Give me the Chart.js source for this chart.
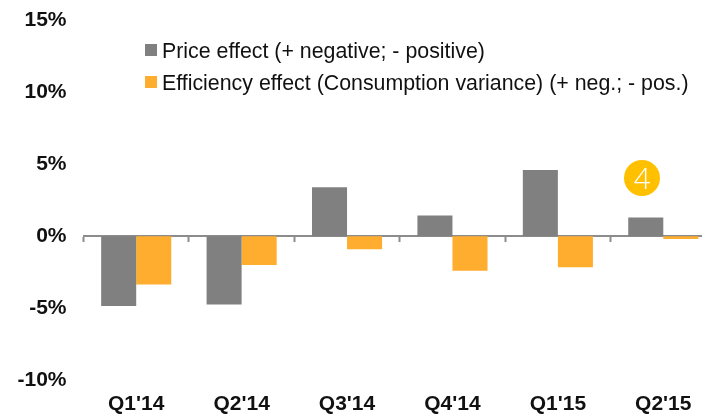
<!DOCTYPE html>
<html>
<head>
<meta charset="utf-8">
<title>Price and efficiency effect</title>
<script src="https://cdn.jsdelivr.net/npm/chart.js@4"></script>
<style>
  html, body { margin: 0; padding: 0; width: 702px; height: 415px; overflow: hidden; background: #fff; }
  body { position: relative; font-family: "Liberation Sans", Arial, sans-serif; }
  #myChart { position: absolute; left: 0; top: -1px; }
  .legend-row { position: absolute; left: 145px; height: 32px; line-height: 32px; font-size: 21.35px; color: #111; white-space: nowrap; }
  .legend-box { position: absolute; left: 0; top: 9px; width: 12px; height: 12px; }
  .legend-text { position: absolute; left: 17px; top: 0; }
  #badge { position: absolute; left: 624px; top: 160px; width: 36px; height: 36px; border-radius: 50%; background: #ffc000; color: #fff; font-size: 29px; line-height: 36px; text-align: center; font-family: "Open Sans", sans-serif; font-weight: 300; }
</style>
</head>
<body>
<canvas id="myChart" width="716" height="415"></canvas>
<div id="legend"></div>
<div id="badge">4</div>
<script>
// Data
const quarters = ["Q1'14", "Q2'14", "Q3'14", "Q4'14", "Q1'15", "Q2'15"];
const priceEffect = [-4.85, -4.75, 3.4, 1.45, 4.6, 1.3];
const efficiencyEffect = [-3.35, -2.0, -0.9, -2.4, -2.15, -0.2];
const seriesNames = [
  "Price effect (+ negative; - positive)",
  "Efficiency effect (Consumption variance) (+ neg.; - pos.)",
];
const seriesColors = ["#808080", "#ffad2f"];
const yTicks = [15, 10, 5, 0, -5, -10];

const labelFont = { family: "'Liberation Sans'", size: 21, weight: "bold" };

new Chart(document.getElementById("myChart"), {
  type: "bar",
  data: {
    labels: quarters,
    datasets: [
      { label: seriesNames[0], data: priceEffect, backgroundColor: seriesColors[0], xAxisID: "x" },
      { label: seriesNames[1], data: efficiencyEffect, backgroundColor: seriesColors[1], xAxisID: "x" },
    ],
  },
  options: {
    responsive: false,
    animation: false,
    barPercentage: 1,
    categoryPercentage: 0.665,
    layout: { padding: { top: 9, right: 0, left: 0, bottom: 0 } },
    plugins: { legend: { display: false }, tooltip: { enabled: false } },
    scales: {
      // labels sit at the bottom, the line is drawn by the zero axis below
      x: {
        position: "bottom",
        border: { display: false },
        grid: { display: false },
        ticks: { color: "#111", font: labelFont, padding: 4, maxRotation: 0, autoSkip: false },
        afterFit: (scale) => { scale.height = 34; },
      },
      zeroLine: {
        axis: "x",
        type: "category",
        labels: quarters,
        position: { y: 0 },
        offset: true,
        border: { display: true, color: "#8c8c8c", width: 2 },
        grid: { drawOnChartArea: false, drawTicks: true, tickLength: 5, tickWidth: 2, tickColor: "#8c8c8c", offset: true },
        ticks: { display: false },
      },
      y: {
        min: -10,
        max: 15,
        afterBuildTicks: (scale) => { scale.ticks = yTicks.map((v) => ({ value: v })); },
        afterFit: (scale) => { scale.width = 83.5; },
        border: { display: false },
        grid: { display: false },
        ticks: {
          color: "#111",
          padding: 9,
          font: labelFont,
          callback: (v) => v + "%",
        },
      },
    },
  },
});

// Legend rows
const legendBox = document.getElementById("legend");
seriesNames.forEach((name, i) => {
  const row = document.createElement("div");
  row.className = "legend-row";
  row.style.top = 35 + i * 32 + "px";
  row.innerHTML = '<span class="legend-box" style="background:' + seriesColors[i] + '"></span><span class="legend-text"></span>';
  row.querySelector(".legend-text").textContent = name;
  legendBox.appendChild(row);
});
</script>
</body>
</html>
